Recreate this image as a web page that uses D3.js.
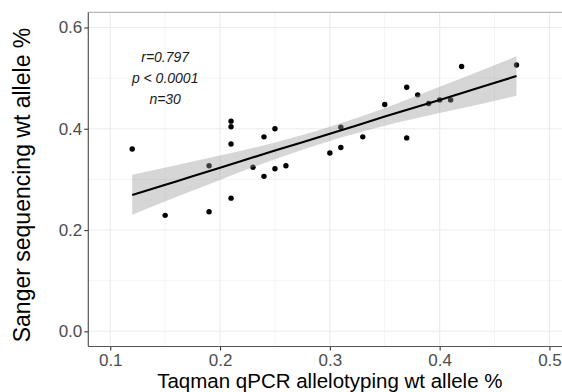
<!DOCTYPE html>
<html>
<head>
<meta charset="utf-8">
<script src="https://cdn.jsdelivr.net/npm/d3@7"></script>
<style>
  html, body { margin: 0; padding: 0; background: #fff; }
  svg { display: block; font-family: Arial, "Liberation Sans", sans-serif; }
</style>
</head>
<body>
<svg id="chart" width="562" height="392"></svg>
<script>
// ---- data ----
const taqman = [0.12, 0.15, 0.19, 0.19, 0.21, 0.21, 0.21, 0.21, 0.23, 0.24, 0.24, 0.25, 0.25, 0.26,
                0.30, 0.31, 0.31, 0.33, 0.35, 0.37, 0.37, 0.38, 0.39, 0.40, 0.41, 0.42, 0.47];
const sanger = [0.360, 0.229, 0.327, 0.236, 0.415, 0.404, 0.370, 0.263, 0.324, 0.384, 0.306, 0.400, 0.321, 0.327,
                0.352, 0.403, 0.363, 0.384, 0.448, 0.482, 0.382, 0.467, 0.450, 0.457, 0.457, 0.523, 0.526];
// fitted line and its 95% confidence band
const fitX  = [0.12, 0.16, 0.20, 0.25, 0.30, 0.35, 0.40, 0.44, 0.47];
const fitY  = [0.269, 0.296, 0.323, 0.357, 0.390, 0.424, 0.457, 0.484, 0.504];
const fitLo = [0.230, 0.265, 0.299, 0.340, 0.376, 0.406, 0.431, 0.450, 0.465];
const fitHi = [0.309, 0.328, 0.347, 0.373, 0.404, 0.441, 0.483, 0.517, 0.543];
const xTicks = [0.1, 0.2, 0.3, 0.4, 0.5];
const yTicks = [0.0, 0.2, 0.4, 0.6];
const xMinor = [0.15, 0.25, 0.35, 0.45];
const yMinor = [0.1, 0.3, 0.5];
const annotation = ["r=0.797", "p < 0.0001", "n=30"];
const xTitle = "Taqman qPCR allelotyping wt allele %";
const yTitle = "Sanger sequencing wt allele %";

const svg = d3.select("#chart");
const P = { left: 88.3, right: 571.4, top: 12.3, bottom: 346.5 };

const x = d3.scaleLinear().domain([0.08, 0.52]).range([P.left, P.right]);
const y = d3.scaleLinear().domain([-0.03, 0.63]).range([P.bottom, P.top]);

// grid
const g = svg.append("g");
g.selectAll(".xminor").data(xMinor).enter().append("line")
  .attr("x1", d => x(d)).attr("x2", d => x(d)).attr("y1", P.top).attr("y2", P.bottom)
  .attr("stroke", "#f4f4f4").attr("stroke-width", 1);
g.selectAll(".yminor").data(yMinor).enter().append("line")
  .attr("y1", d => y(d)).attr("y2", d => y(d)).attr("x1", P.left).attr("x2", P.right)
  .attr("stroke", "#f4f4f4").attr("stroke-width", 1);
g.selectAll(".xmajor").data(xTicks).enter().append("line")
  .attr("x1", d => x(d)).attr("x2", d => x(d)).attr("y1", P.top).attr("y2", P.bottom)
  .attr("stroke", "#ebebeb").attr("stroke-width", 1.1);
g.selectAll(".ymajor").data(yTicks).enter().append("line")
  .attr("y1", d => y(d)).attr("y2", d => y(d)).attr("x1", P.left).attr("x2", P.right)
  .attr("stroke", "#ebebeb").attr("stroke-width", 1.1);

// top border
svg.append("line").attr("x1", P.left).attr("x2", P.right).attr("y1", P.top).attr("y2", P.top)
  .attr("stroke", "#b8b8b8").attr("stroke-width", 1.2);

// points
const data = taqman.map((d, i) => ({ x: d, y: sanger[i] }));
svg.append("g").selectAll("circle").data(data).enter().append("circle")
  .attr("cx", d => x(d.x)).attr("cy", d => y(d.y)).attr("r", 2.7).attr("fill", "#000");

// confidence band and fitted line
const fit = fitX.map((v, i) => ({ x: v, y: fitY[i], lo: fitLo[i], hi: fitHi[i] }));
svg.append("path").datum(fit)
  .attr("d", d3.area().curve(d3.curveMonotoneX).x(d => x(d.x)).y0(d => y(d.lo)).y1(d => y(d.hi)))
  .attr("fill", "#999999").attr("fill-opacity", 0.4);
svg.append("path").datum(fit)
  .attr("d", d3.line().curve(d3.curveMonotoneX).x(d => x(d.x)).y(d => y(d.y)))
  .attr("fill", "none").attr("stroke", "#000").attr("stroke-width", 2.1);

// axes
const xAxis = d3.axisBottom(x).tickValues(xTicks).tickFormat(d3.format(".1f")).tickSize(4).tickPadding(3);
const yAxis = d3.axisLeft(y).tickValues(yTicks).tickFormat(d3.format(".1f")).tickSize(4).tickPadding(2);

const gx = svg.append("g").attr("transform", `translate(0,${P.bottom})`).call(xAxis);
const gy = svg.append("g").attr("transform", `translate(${P.left},0)`).call(yAxis);
[gx, gy].forEach(ax => {
  ax.select(".domain").remove();
  ax.selectAll(".tick line").attr("stroke", "#333").attr("stroke-width", 1.1);
  ax.selectAll(".tick text").attr("fill", "#4d4d4d").attr("font-size", "17px")
    .attr("font-family", "Arial, 'Liberation Sans', sans-serif");
});
svg.append("line").attr("x1", P.left).attr("x2", P.right).attr("y1", P.bottom).attr("y2", P.bottom)
  .attr("stroke", "#555").attr("stroke-width", 1.2);
svg.append("line").attr("x1", P.left).attr("x2", P.left).attr("y1", P.top).attr("y2", P.bottom)
  .attr("stroke", "#555").attr("stroke-width", 1.2);

// annotation
const ann = svg.append("text").attr("font-size", "14px").attr("font-style", "italic")
  .attr("fill", "#1a1a1a").attr("text-anchor", "middle");
annotation.forEach((t, i) => {
  ann.append("tspan").attr("x", x(0.15)).attr("y", y(0.5) + 5 + (i - 1) * 20.8).text(t);
});

// axis titles
svg.append("text").attr("x", (P.left + P.right) / 2).attr("y", 388)
  .attr("text-anchor", "middle").attr("font-size", "20.5px").attr("fill", "#000").text(xTitle);
svg.append("text").attr("transform", `translate(29.5,185) rotate(-90)`)
  .attr("text-anchor", "middle").attr("font-size", "23px").attr("fill", "#000").text(yTitle);
</script>
</body>
</html>
